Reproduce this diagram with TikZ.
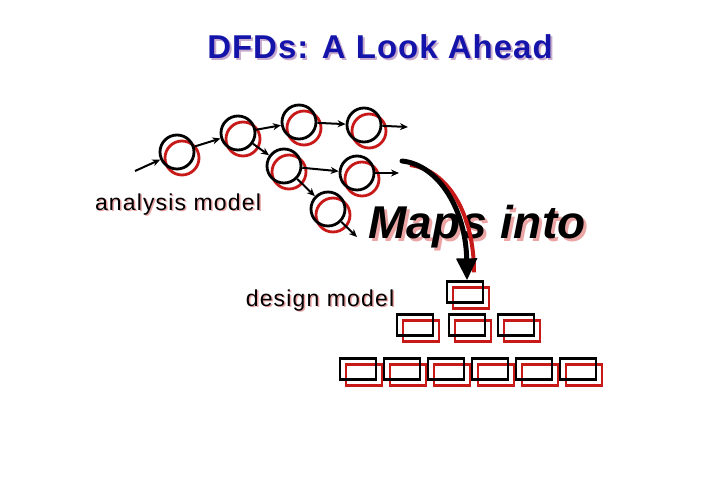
\documentclass[tikz,border=0pt]{standalone}
\usepackage{fontspec}
\setmainfont{Liberation Sans}
\newfontfamily\titlefont[LetterSpace=3]{Liberation Sans}
\newfontfamily\labelfont[LetterSpace=5]{Liberation Sans}
\newfontfamily\mapfont[LetterSpace=1]{Liberation Sans}
\usetikzlibrary{arrows.meta,positioning}
\usetikzlibrary{calc}

\definecolor{titleblue}{RGB}{20,20,170}
\definecolor{shadowred}{RGB}{200,25,25}
\definecolor{titleshade}{RGB}{200,170,205}
\definecolor{textshade}{RGB}{235,165,165}

\tikzset{
	every bubble/.style={circle, draw=black, line width=2.8pt, minimum size=34pt, inner sep=0pt},
	bubble shade/.style={circle, draw=shadowred, line width=2.8pt, minimum size=34pt, inner sep=0pt},
	every module/.style={rectangle, draw=black, line width=2.3pt, minimum width=36pt, minimum height=21pt, inner sep=0pt},
	module shade/.style={rectangle, draw=shadowred, line width=2.3pt, minimum width=36pt, minimum height=21pt, inner sep=0pt},
	flow/.style={->, line width=2pt},
	label text/.style={anchor=base, font=\labelfont\fontsize{23}{26}\selectfont}
}

\begin{document}
\begin{tikzpicture}[x=1pt, y=-1pt, >={Stealth[length=8pt,width=7pt]}]
	
	\useasboundingbox (0,0) rectangle (720,480);
	
	% title
	\node [anchor=base, font=\titlefont\bfseries\fontsize{33}{38}\selectfont, text=titleshade] (title-shade) at (382,60) {DFDs: A Look Ahead};
	\node [anchor=base, font=\titlefont\bfseries\fontsize{33}{38}\selectfont, text=titleblue] (title) at (380,58) {DFDs: A Look Ahead};
	
	% analysis model
	\foreach \n/\px/\py [count=\i] in {1/177/152, 2/238/133, 3/299/122, 4/364/125, 5/284/166, 6/357/173, 7/328/209}
	\node [bubble shade] (shade-\n) at (\px+5,\py+6) {};
	
	\foreach \n/\px/\py in {1/177/152, 2/238/133, 3/299/122, 4/364/125, 5/284/166, 6/357/173, 7/328/209}
	\node [every bubble] (bubble-\n) at (\px,\py) {};
	
	\coordinate (in-1) at (135,171);
	\coordinate (out-4) at (408,127);
	\coordinate (out-6) at (399,173);
	\coordinate (out-7) at (357,237);
	
	\draw [flow] (in-1) -- (bubble-1);
	
	\foreach \a/\b in {1/2, 2/3, 3/4, 2/5, 5/6, 5/7}
	\draw [flow] (bubble-\a) -- (bubble-\b);
	
	\foreach \n in {4,6,7}
	\draw [flow] (bubble-\n) -- (out-\n);
	
	\node [label text, text=textshade] (analysis-shade) at (179.5,211.5) {analysis model};
	\node [label text] (analysis) at (178,210) {analysis model};
	
	% design model
	\foreach \n/\px/\py in {0/465/292, 1/415/325, 2/467/325, 3/516/325, 4/358/369, 5/402/369, 6/446/369, 7/490/369, 8/534/369, 9/578/369}
	\node [module shade] (mshade-\n) at (\px+6,\py+6) {};
	
	\foreach \n/\px/\py in {0/465/292, 1/415/325, 2/467/325, 3/516/325, 4/358/369, 5/402/369, 6/446/369, 7/490/369, 8/534/369, 9/578/369}
	\node [every module] (module-\n) at (\px,\py) {};
	
	\node [label text, text=textshade] (design-shade) at (321.5,307.5) {design model};
	\node [label text] (design) at (320,306) {design model};
	
	% maps into
	\node [anchor=base, font=\mapfont\bfseries\itshape\fontsize{46}{52}\selectfont, text=textshade] (maps-shade) at (480,241) {Maps into};
	\node [anchor=base, font=\mapfont\bfseries\itshape\fontsize{46}{52}\selectfont] (maps) at (477,238) {Maps into};
	
	\coordinate (map-start) at (402,161);
	\draw [shadowred, line width=4pt] ($(map-start)+(8,4)$) .. controls (448,170) and (474,214) .. ($(module-0.north)+(9,-8)$);
	\draw [line width=5pt, line cap=round, -{Triangle[length=22pt,width=20pt]}] (map-start) .. controls (440,165) and (466,212) .. ($(module-0.north)+(2,0)$);
	
\end{tikzpicture}
\end{document}
